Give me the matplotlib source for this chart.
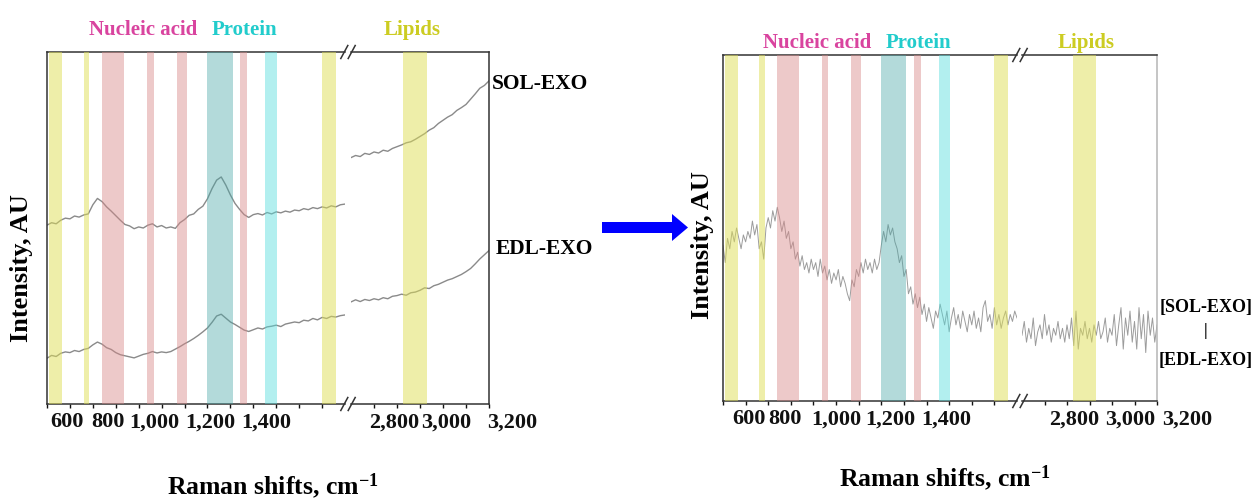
import numpy as np
import matplotlib
matplotlib.use('Agg')
import matplotlib.pyplot as plt
from matplotlib.transforms import ScaledTranslation
from matplotlib.lines import Line2D
from matplotlib.patches import FancyArrow

plt.rcParams['font.family'] = ['Liberation Serif', 'DejaVu Serif']
plt.rcParams['font.weight'] = 'bold'
plt.rcParams['mathtext.fontset'] = 'custom'
plt.rcParams['mathtext.rm'] = 'Liberation Serif:bold'
plt.rcParams['mathtext.default'] = 'rm'

# ---- data (intensity in arbitrary units, 0 = bottom of frame, 1 = top) ----
x_low = np.arange(500, 1801, 20)
x_high = np.arange(2600, 3201, 20)

sol_low = [0.508, 0.515, 0.512, 0.522, 0.528, 0.526, 0.534, 0.531, 0.537, 0.540,
           0.566, 0.584, 0.575, 0.560, 0.548, 0.535, 0.522, 0.510, 0.506, 0.498,
           0.503, 0.500, 0.508, 0.512, 0.503, 0.507, 0.500, 0.503, 0.499, 0.515,
           0.524, 0.536, 0.540, 0.553, 0.562, 0.583, 0.612, 0.636, 0.645, 0.622,
           0.594, 0.570, 0.553, 0.538, 0.530, 0.538, 0.541, 0.537, 0.544, 0.540,
           0.546, 0.543, 0.548, 0.545, 0.551, 0.549, 0.555, 0.552, 0.558, 0.555,
           0.560, 0.557, 0.563, 0.560, 0.566, 0.568]
sol_high = [0.700, 0.706, 0.703, 0.712, 0.709, 0.716, 0.713, 0.721, 0.718, 0.726,
            0.731, 0.736, 0.742, 0.745, 0.752, 0.760, 0.768, 0.778, 0.785, 0.797,
            0.806, 0.815, 0.822, 0.834, 0.842, 0.851, 0.866, 0.881, 0.897, 0.905,
            0.918]
edl_low = [0.130, 0.138, 0.135, 0.144, 0.148, 0.146, 0.152, 0.149, 0.155, 0.158,
           0.168, 0.176, 0.170, 0.160, 0.155, 0.146, 0.140, 0.137, 0.134, 0.131,
           0.136, 0.141, 0.144, 0.149, 0.145, 0.148, 0.146, 0.149, 0.156, 0.163,
           0.171, 0.178, 0.186, 0.195, 0.205, 0.216, 0.232, 0.250, 0.255, 0.244,
           0.233, 0.226, 0.218, 0.210, 0.206, 0.211, 0.216, 0.213, 0.219, 0.221,
           0.224, 0.220, 0.227, 0.230, 0.233, 0.231, 0.238, 0.236, 0.243, 0.239,
           0.246, 0.243, 0.249, 0.247, 0.251, 0.253]
edl_high = [0.290, 0.296, 0.291, 0.297, 0.294, 0.299, 0.296, 0.302, 0.299, 0.306,
            0.308, 0.312, 0.309, 0.316, 0.318, 0.323, 0.330, 0.328, 0.336, 0.340,
            0.346, 0.352, 0.356, 0.362, 0.368, 0.376, 0.385, 0.398, 0.412, 0.424,
            0.436]

# ratio spectrum [SOL-EXO] | [EDL-EXO]
xr_low = np.arange(500, 1801, 10)
xr_high = np.arange(2600, 3201, 10)
ratio_low = [0.45, 0.40, 0.47, 0.44, 0.49, 0.46, 0.50, 0.47, 0.44, 0.48,
             0.46, 0.49, 0.47, 0.52, 0.48, 0.51, 0.44, 0.46, 0.41, 0.50,
             0.53, 0.50, 0.55, 0.52, 0.56, 0.53, 0.49, 0.52, 0.47, 0.49,
             0.44, 0.46, 0.41, 0.43, 0.39, 0.42, 0.38, 0.40, 0.37, 0.41,
             0.38, 0.40, 0.36, 0.41, 0.37, 0.39, 0.35, 0.38, 0.34, 0.37,
             0.35, 0.38, 0.33, 0.36, 0.34, 0.31, 0.29, 0.35, 0.33, 0.38,
             0.36, 0.40, 0.37, 0.41, 0.38, 0.40, 0.37, 0.41, 0.38, 0.40,
             0.45, 0.49, 0.46, 0.51, 0.48, 0.50, 0.46, 0.44, 0.40, 0.42,
             0.36, 0.38, 0.31, 0.33, 0.28, 0.31, 0.27, 0.30, 0.25, 0.28,
             0.23, 0.27, 0.24, 0.21, 0.26, 0.24, 0.28, 0.25, 0.22, 0.26,
             0.20, 0.24, 0.27, 0.22, 0.25, 0.21, 0.26, 0.23, 0.20, 0.25,
             0.22, 0.26, 0.21, 0.24, 0.20, 0.27, 0.29, 0.23, 0.25, 0.21,
             0.27, 0.22, 0.25, 0.21, 0.24, 0.26, 0.22, 0.25, 0.23, 0.26,
             0.24]
ratio_high = [0.19, 0.23, 0.17, 0.21, 0.18, 0.24, 0.16, 0.20, 0.22, 0.18,
              0.25, 0.19, 0.22, 0.17, 0.21, 0.19, 0.23, 0.18, 0.21, 0.17,
              0.22, 0.18, 0.24, 0.16, 0.26, 0.15, 0.21, 0.19, 0.23, 0.18,
              0.21, 0.17, 0.22, 0.19, 0.23, 0.18, 0.20, 0.24, 0.17, 0.21,
              0.19, 0.25, 0.16, 0.22, 0.27, 0.15, 0.24, 0.19, 0.26, 0.17,
              0.23, 0.15, 0.27, 0.18, 0.25, 0.14, 0.26, 0.19, 0.24, 0.17,
              0.22]

# highlighted bands (cm-1)
band_start = [508, 660, 738, 938, 1065, 1198, 1343, 1453, 1700, 2825]
band_end = [566, 685, 835, 966, 1112, 1310, 1374, 1505, 1762, 2930]
band_kind = ['lipid', 'lipid', 'na', 'na', 'na', 'amide', 'na', 'protein', 'lipid', 'lipid']

band_colors = {'lipid': ('#dede55', 0.5), 'na': ('#d98888', 0.45),
               'protein': ('#55dddd', 0.45), 'amide': ('#4aa8a8', 0.42)}

W, H = 1256, 501
fig = plt.figure(figsize=(W / 100, H / 100), dpi=100)


def px_rect(x0, y0, x1, y1):
    return [x0 / W, 1 - y1 / H, (x1 - x0) / W, (y1 - y0) / H]


def shift_labels(ax, offsets):
    for lab, dx in zip(ax.get_xticklabels(), offsets):
        lab.set_transform(lab.get_transform() + ScaledTranslation(dx / 100, 0, fig.dpi_scale_trans))


def draw_break(xc, y):
    for off in (-3.7, 3.7):
        x0, x1 = xc + off - 3.5, xc + off + 3.5
        fig.add_artist(Line2D([x0 / W, x1 / W], [1 - (y + 6.5) / H, 1 - (y - 6.5) / H],
                              color='#333333', lw=1.1))


def make_panel(box_low, box_high, series, line_color, line_w, lab_off_low, lab_off_high, right_spine):
    ax1 = fig.add_axes(px_rect(*box_low))
    ax2 = fig.add_axes(px_rect(*box_high))
    for ax, lim in ((ax1, (500, 1800)), (ax2, (2600, 3200))):
        ax.set_xlim(*lim)
        ax.set_ylim(0, 1)
        ax.set_yticks([])
        for s in ax.spines.values():
            s.set_color('#333333')
            s.set_linewidth(1.1)
        for a, b, k in zip(band_start, band_end, band_kind):
            c, al = band_colors[k]
            ax.axvspan(a, b, color=c, alpha=al, lw=0, zorder=3)
    for xs_lo, ys_lo, xs_hi, ys_hi in series:
        ax1.plot(xs_lo, ys_lo, color=line_color, lw=line_w, zorder=2)
        ax2.plot(xs_hi, ys_hi, color=line_color, lw=line_w, zorder=2)
    ax1.spines['right'].set_visible(False)
    ax2.spines['left'].set_visible(False)
    ax2.spines['right'].set_color(right_spine)
    ax1.set_xticks([600, 800, 1000, 1200, 1400], ['600', '800', '1,000', '1,200', '1,400'])
    ax1.set_xticks([500, 700, 900, 1100, 1300, 1500, 1600, 1700], minor=True)
    ax2.set_xticks([2800, 3000, 3200], ['2,800', '3,000', '3,200'])
    ax2.set_xticks([2700, 2900, 3100], minor=True)
    for ax in (ax1, ax2):
        ax.tick_params(axis='x', which='both', direction='out', length=3, width=1,
                       pad=3, labelsize=16, top=False, colors='#111111')
    shift_labels(ax1, lab_off_low)
    shift_labels(ax2, lab_off_high)
    return ax1, ax2


# left panel: both spectra
make_panel((47, 52, 345, 404), (351, 52, 489, 404),
           [(x_low, sol_low, x_high, sol_high), (x_low, edl_low, x_high, edl_high)],
           '#8a8a8a', 1.0, [-3, -8, -7, 3, 13], [-3, 3, 23], '#333333')
draw_break(348, 52)
draw_break(348, 404)

# right panel: ratio spectrum
make_panel((723, 55, 1017, 401), (1022, 55, 1157, 401),
           [(xr_low, ratio_low, xr_high, ratio_high)],
           '#9c9c9c', 0.7, [3, -6, 0, 9, 20], [7, 18, 30], '#b5b5b5')
draw_break(1020, 55)
draw_break(1020, 401)


def ftext(x, y, s, **kw):
    fig.text(x / W, 1 - y / H, s, **kw)


# group labels
for xc, yb in ((0, 35), (674, 48)):
    ftext(143 + xc, yb, 'Nucleic acid', color='#d9449f', fontsize=15, ha='center', va='baseline')
    ftext(244 + xc, yb, 'Protein', color='#22cccc', fontsize=15, ha='center', va='baseline')
    ftext(412 + xc, yb, 'Lipids', color='#cccc22', fontsize=15, ha='center', va='baseline')

ftext(492, 89, 'SOL-EXO', fontsize=15.5, ha='left', va='baseline')
ftext(496, 254, 'EDL-EXO', fontsize=15.5, ha='left', va='baseline')

ftext(1206, 312, '[SOL-EXO]', fontsize=13, ha='center', va='baseline')
ftext(1206, 331, '|', fontsize=12, ha='center', va='center')
ftext(1206, 365, '[EDL-EXO]', fontsize=13, ha='center', va='baseline')

ftext(22, 268, 'Intensity, AU', fontsize=19, rotation=90, ha='center', va='center')
ftext(702, 245, 'Intensity, AU', fontsize=19, rotation=90, ha='center', va='center')
ftext(273, 486, 'Raman shifts, cm$^{-1}$', fontsize=18.5, ha='center', va='center')
ftext(945, 478, 'Raman shifts, cm$^{-1}$', fontsize=18.5, ha='center', va='center')

# arrow between panels
fig.add_artist(FancyArrow(602 / W, 1 - 227.5 / H, 86 / W, 0, width=11 / H,
                          head_width=27 / H, head_length=16 / W, length_includes_head=True,
                          transform=fig.transFigure, color='#0000ff', lw=0))

fig.savefig('out.png', dpi=100)
